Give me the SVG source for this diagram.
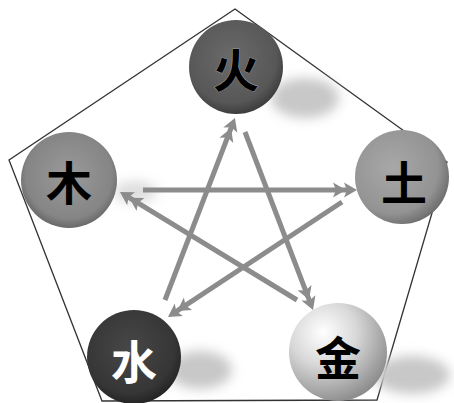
<svg xmlns="http://www.w3.org/2000/svg" width="454" height="403" viewBox="0 0 454 403">
<style>
.edge{fill:none;stroke:#8c8c8c;stroke-width:5;marker-end:url(#dbl)}
.lbl{font-family:"Noto Sans CJK SC","Noto Sans CJK JP",sans-serif;font-weight:700;font-size:46px;text-anchor:middle;dominant-baseline:central}
.shadow{fill:#c8c8c8;filter:url(#blur)}
</style>
<defs>
<marker id="dbl" viewBox="-30 -9 32 18" refX="-6" refY="0" markerWidth="32" markerHeight="18" markerUnits="userSpaceOnUse" orient="auto">
<path d="M0,0 L-13,-7.5 L-10,0 L-13,7.5 Z M-11,0 L-24,-7.5 L-21,0 L-24,7.5 Z" fill="#8c8c8c"/>
</marker>
<filter id="blur" x="-50%" y="-50%" width="200%" height="200%"><feGaussianBlur stdDeviation="6"/></filter>
<radialGradient id="gFire" cx="0.45" cy="0.4" r="0.6"><stop offset="0" stop-color="#6a6a6a"/><stop offset="0.8" stop-color="#575757"/><stop offset="1" stop-color="#3e3e3e"/></radialGradient>
<radialGradient id="gWood" cx="0.5" cy="0.45" r="0.6"><stop offset="0" stop-color="#9a9a9a"/><stop offset="0.75" stop-color="#858585"/><stop offset="1" stop-color="#5a5a5a"/></radialGradient>
<radialGradient id="gEarth" cx="0.4" cy="0.4" r="0.65"><stop offset="0" stop-color="#a8a8a8"/><stop offset="0.75" stop-color="#939393"/><stop offset="1" stop-color="#6a6a6a"/></radialGradient>
<radialGradient id="gWater" cx="0.45" cy="0.4" r="0.6"><stop offset="0" stop-color="#474747"/><stop offset="0.8" stop-color="#363636"/><stop offset="1" stop-color="#252525"/></radialGradient>
<radialGradient id="gMetal" cx="0.35" cy="0.3" r="0.75"><stop offset="0" stop-color="#ffffff"/><stop offset="0.45" stop-color="#d8d8d8"/><stop offset="1" stop-color="#8a8a8a"/></radialGradient>
</defs>
<polygon id="pentagon" points="235,9 447,162 377,400 102,401 9,160" fill="none" stroke="#333" stroke-width="1.3"/>
<g id="shadows">
<ellipse class="shadow" cx="305" cy="98" rx="34" ry="20"/>
<ellipse class="shadow" cx="135" cy="192" rx="22" ry="11" opacity="0.6"/>
<ellipse class="shadow" cx="200" cy="370" rx="32" ry="19"/>
<ellipse class="shadow" cx="412" cy="375" rx="38" ry="19"/>
</g>
<g id="connectors">
<path class="edge" d="M143,190 L351,190"/>
<path class="edge" d="M342,202 L173,313.7"/>
<path class="edge" d="M165,300 L232.8,123.6"/>
<path class="edge" d="M245,132 L310.9,304.4"/>
<path class="edge" d="M297,300 L125.1,195.1"/>
</g>
<g id="fire"><circle cx="236" cy="67" r="47" fill="url(#gFire)"/><text class="lbl" x="236" y="67" fill="#000" stroke="#999" stroke-width="1" paint-order="stroke">火</text></g>
<g id="wood"><circle cx="69" cy="180" r="48" fill="url(#gWood)"/><text class="lbl" x="69" y="180" fill="#000">木</text></g>
<g id="earth"><circle cx="402" cy="177" r="47" fill="url(#gEarth)"/><text class="lbl" x="404" y="180" fill="#000">土</text></g>
<g id="water"><circle cx="134" cy="357" r="47" fill="url(#gWater)"/><text class="lbl" x="134" y="359" fill="#fff">水</text></g>
<g id="metal"><circle cx="338" cy="352" r="49" fill="url(#gMetal)"/><text class="lbl" x="338" y="355" fill="#000">金</text></g>
</svg>
